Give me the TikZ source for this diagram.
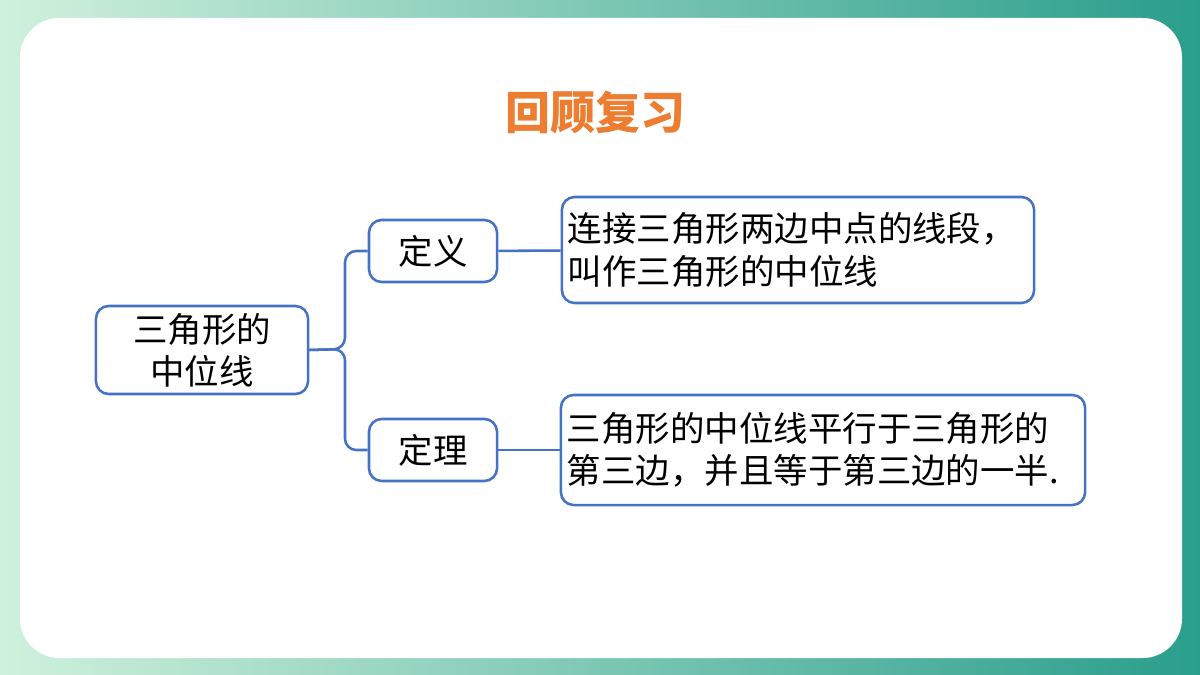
\documentclass[tikz,border=0pt]{standalone}
\usepackage{fontspec}
\setmainfont{Noto Sans CJK SC}
\usetikzlibrary{positioning}
\definecolor{linkblue}{HTML}{4472C4}
\definecolor{titleorange}{HTML}{ED7D31}
\definecolor{bgleft}{HTML}{CFF1DC}
\definecolor{bgright}{HTML}{2A9E8C}
\begin{document}
\begin{tikzpicture}
  [
  x=0.025cm,y=-0.025cm,
  box/.style={draw=linkblue,line width=1.8pt,rounded corners=9pt,fill=white,font=\fontsize{24.5}{30}\selectfont,inner sep=2pt},
  link/.style={draw=linkblue,line width=1.8pt,rounded corners=8pt}
  ]
  % background
  \shade[left color=bgleft,right color=bgright] (0,0) rectangle (1200,675);
  \fill[white,rounded corners=28pt] (20,18) rectangle (1182,658);
  \node[text=titleorange,font=\bfseries\fontsize{32}{36}\selectfont] (title) at (595,113) {回顾复习};
  % nodes
  \node[box,minimum width=5.3cm,minimum height=2.2cm,align=center] (topic) at (202,350) {三角形的\\中位线};
  \node[box,minimum width=3.2cm,minimum height=1.55cm] (def) at (433,251) {定义};
  \node[box,minimum width=3.2cm,minimum height=1.55cm] (thm) at (433,450) {定理};
  \node[box,minimum width=11.8cm,minimum height=2.65cm,align=left,text width=11.5cm] (defText) at (798,250) {连接三角形两边中点的线段，\\叫作三角形的中位线};
  \node[box,minimum width=13.1cm,minimum height=2.75cm,align=left,text width=12.8cm] (thmText) at (823,450) {三角形的中位线平行于三角形的\\第三边，并且等于第三边的一半.};
  % connectors
  \coordinate (fork) at (345,349);
  \draw[link] (topic.east) -- (fork) |- (def.west);
  \draw[link] (topic.east) -- (fork) |- (thm.west);
  \draw[link] (def) -- (defText);
  \draw[link] (thm) -- (thmText);
\end{tikzpicture}
\end{document}
